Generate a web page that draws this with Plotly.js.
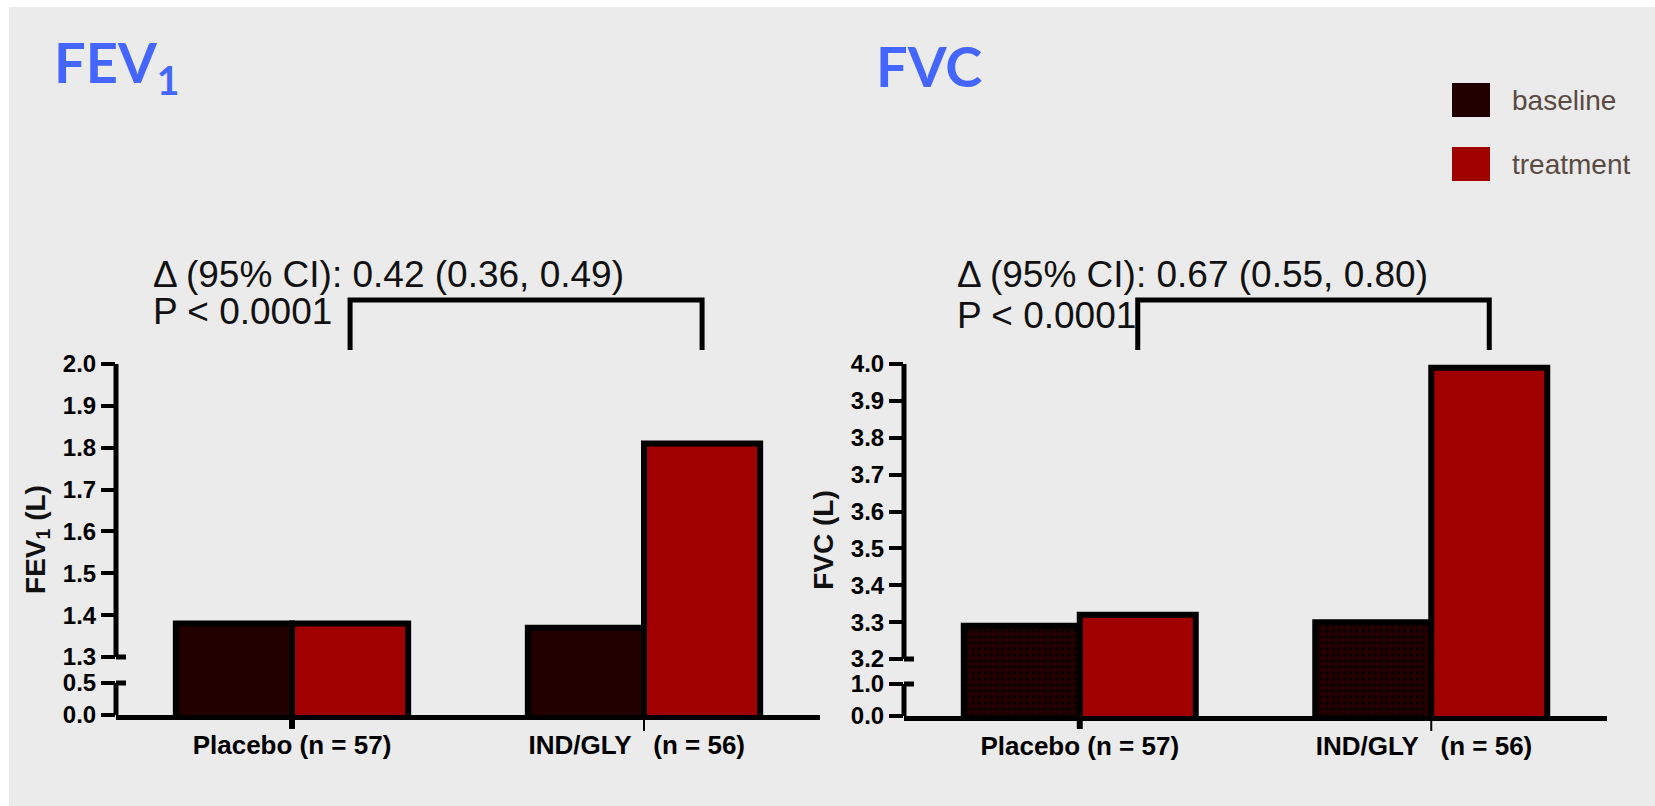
<!DOCTYPE html>
<html><head><meta charset="utf-8">
<script src="https://cdn.plot.ly/plotly-3.0.1.min.js"></script>
<style>html,body{margin:0;padding:0;background:#fff;overflow:hidden}#chart{width:1655px;height:806px}</style>
</head><body><div id="chart"></div>
<script>
// ---- data ----
const categories = ['Placebo (n = 57)', 'IND/GLY\u00a0\u00a0\u00a0(n = 56)\u00a0\u00a0'];
const seriesNames = ['baseline', 'treatment'];
const fev1Baseline = [1.38, 1.37];
const fev1Treatment = [1.38, 1.81];
const fvcBaseline = [3.29, 3.30];
const fvcTreatment = [3.32, 3.99];
const fev1UpperTicks = [1.3, 1.4, 1.5, 1.6, 1.7, 1.8, 1.9, 2.0];
const fev1LowerTicks = [0.0, 0.5];
const fvcUpperTicks = [3.2, 3.3, 3.4, 3.5, 3.6, 3.7, 3.8, 3.9, 4.0];
const fvcLowerTicks = [0.0, 1.0];
const panelTitles = ['FEV<sub>1</sub>', 'FVC'];
const yTitles = ['FEV<sub>1</sub> (L)', 'FVC (L)'];
const deltaTexts = ['Δ (95% CI): 0.42 (0.36, 0.49)', 'Δ (95% CI): 0.67 (0.55, 0.80)'];
const pTexts = ['P < 0.0001', 'P < 0.0001'];

// ---- style ----
const baselineColor = '#230000';
const treatmentColor = '#a00000';
const bgGray = '#ebebeb';
const titleBlue = '#4466ff';
const FONT = '"Liberation Sans", Arial, sans-serif';
const W = 1655, H = 806;
const fx = p => p / W;
const fy = p => 1 - p / H;
const bargap = 0.34;

const panels = [
  {xa: 'x', ya: 'y', yb: 'y2', left: 116, right: 820, top: 364, bottom: 715, upLo: 657, lowHi: 683,
   up: fev1UpperTicks, low: fev1LowerTicks, base: fev1Baseline, treat: fev1Treatment, pattern: false,
   titleX: 52, deltaX: 151, deltaY: 274, pY: 311, brTop: 300, brBot: 350},
  {xa: 'x2', ya: 'y3', yb: 'y4', left: 904, right: 1607, top: 364, bottom: 716, upLo: 659, lowHi: 684,
   up: fvcUpperTicks, low: fvcLowerTicks, base: fvcBaseline, treat: fvcTreatment, pattern: true,
   titleX: 874, deltaX: 955, deltaY: 274, pY: 316, brTop: 300, brBot: 350}
];

const data = [];
const layout = {
  width: W, height: H,
  margin: {l: 0, r: 0, t: 0, b: 0},
  paper_bgcolor: '#ffffff', plot_bgcolor: 'rgba(0,0,0,0)',
  barmode: 'group', bargap: bargap, bargroupgap: 0,
  showlegend: false,
  font: {family: FONT, color: '#000'},
  shapes: [{type: 'rect', xref: 'paper', yref: 'paper', x0: fx(9), x1: 1, y0: 0, y1: fy(7),
            fillcolor: bgGray, line: {width: 0}, layer: 'below'}],
  annotations: []
};

const tickFont = {family: FONT, size: 24, color: '#000', weight: 'bold'};

panels.forEach((p, i) => {
  const upScale = (p.upLo - p.top) / (p.up[p.up.length - 1] - p.up[0]);
  const upRange = [p.up[0] - (p.bottom - p.upLo) / upScale, p.up[p.up.length - 1]];
  const lowScale = (p.bottom - p.lowHi) / (p.low[p.low.length - 1] - p.low[0]);
  const lowRange = [p.low[0], p.low[0] + (p.bottom - p.top) / lowScale];
  const xKey = p.xa === 'x' ? 'xaxis' : 'xaxis2';
  const yKey = 'yaxis' + (p.ya === 'y' ? '' : p.ya.slice(1));
  const ybKey = 'yaxis' + p.yb.slice(1);

  data.push({
    type: 'bar', name: seriesNames[0], x: categories, y: p.base, xaxis: p.xa, yaxis: p.ya,
    marker: Object.assign({color: baselineColor, line: {color: '#000', width: 6}},
      p.pattern ? {pattern: {shape: '.', size: 6, solidity: 0.18, fgcolor: '#000000', bgcolor: baselineColor, fillmode: 'replace'}} : {}),
    hoverinfo: 'skip'
  });
  data.push({
    type: 'bar', name: seriesNames[1], x: categories, y: p.treat, xaxis: p.xa, yaxis: p.ya,
    marker: {color: treatmentColor, line: {color: '#000', width: 6}}, hoverinfo: 'skip'
  });
  data.push({type: 'scatter', mode: 'markers', x: [], y: [], xaxis: p.xa, yaxis: p.yb, showlegend: false, hoverinfo: 'skip'});

  layout[xKey] = {
    domain: [fx(p.left), fx(p.right)], anchor: p.ya, type: 'category', range: [-0.5, 1.5],
    showline: true, linewidth: 5, linecolor: '#000', ticks: 'outside', ticklen: 3,
    tickcolor: 'rgba(0,0,0,0)', tickfont: {family: FONT, size: 26, color: '#000', weight: 'bold'},
    showgrid: false, zeroline: false, fixedrange: true
  };
  const yCommon = {
    anchor: p.xa, tickformat: '.1f', ticks: 'outside', ticklen: 14, tickwidth: 4, tickcolor: '#000',
    showline: false, showgrid: false, zeroline: false, tickfont: tickFont, fixedrange: true
  };
  layout[yKey] = Object.assign({}, yCommon, {
    domain: [fy(p.bottom), fy(p.top)], range: upRange, tickvals: p.up,
    title: {text: yTitles[i], font: {family: FONT, size: 28, color: '#111', weight: 'bold'}, standoff: 9}
  });
  layout[ybKey] = Object.assign({}, yCommon, {overlaying: p.ya, side: 'left', range: lowRange, tickvals: p.low});

  const xd = p.xa + ' domain';
  const blk = {color: '#000', width: 5};
  const brk = 10 / (p.right - p.left);
  layout.shapes.push(
    {type: 'line', xref: xd, yref: p.ya, x0: 0, x1: 0, y0: p.up[0], y1: p.up[p.up.length - 1], line: blk},
    {type: 'line', xref: xd, yref: p.yb, x0: 0, x1: 0, y0: p.low[0], y1: p.low[p.low.length - 1], line: blk},
    {type: 'line', xref: xd, yref: p.ya, x0: 0, x1: brk, y0: p.up[0], y1: p.up[0], line: blk},
    {type: 'line', xref: xd, yref: p.yb, x0: 0, x1: brk, y0: p.low[p.low.length - 1], y1: p.low[p.low.length - 1], line: blk},
    {type: 'line', xref: p.xa, yref: 'paper', x0: categories[0], x1: categories[0], y0: fy(p.bottom + 4), y1: fy(729), line: {color: '#000', width: 6}},
    {type: 'line', xref: p.xa, yref: 'paper', x0: categories[1], x1: categories[1], y0: fy(p.bottom + 4), y1: fy(731), line: {color: '#000', width: 2}}
  );
  const off = (1 - bargap) / 4;
  layout.shapes.push({
    type: 'path', xref: p.xa, yref: 'paper',
    path: `M ${off},${fy(p.brBot)} L ${off},${fy(p.brTop)} L ${1 + off},${fy(p.brTop)} L ${1 + off},${fy(p.brBot)}`,
    line: {color: '#000', width: 5}
  });

  layout.annotations.push(
    {xref: 'paper', yref: 'paper', x: fx(p.titleX), y: fy(65), xanchor: 'left', yanchor: 'middle', showarrow: false,
     text: panelTitles[i], font: {family: 'Lato, "Open Sans", sans-serif', size: 56, color: titleBlue, weight: 'bold'}},
    {xref: 'paper', yref: 'paper', x: fx(p.deltaX), y: fy(p.deltaY), xanchor: 'left', yanchor: 'middle', showarrow: false,
     text: deltaTexts[i], font: {family: FONT, size: 37, color: '#111'}},
    {xref: 'paper', yref: 'paper', x: fx(p.deltaX), y: fy(p.pY), xanchor: 'left', yanchor: 'middle', showarrow: false,
     text: pTexts[i], font: {family: FONT, size: 37, color: '#111'}}
  );
});

// custom legend
const legendRows = [{name: seriesNames[0], color: baselineColor, y0: 83, y1: 117},
                    {name: seriesNames[1], color: treatmentColor, y0: 147, y1: 181}];
legendRows.forEach(r => {
  layout.shapes.push({type: 'rect', xref: 'paper', yref: 'paper', x0: fx(1452), x1: fx(1490), y0: fy(r.y1), y1: fy(r.y0),
                      fillcolor: r.color, line: {width: 0}});
  layout.annotations.push({xref: 'paper', yref: 'paper', x: fx(1510), y: fy((r.y0 + r.y1) / 2), xanchor: 'left', yanchor: 'middle',
                           showarrow: false, text: r.name, font: {family: FONT, size: 28, color: '#5a4a42'}});
});

Plotly.newPlot('chart', data, layout, {staticPlot: true, displayModeBar: false});
</script></body></html>
